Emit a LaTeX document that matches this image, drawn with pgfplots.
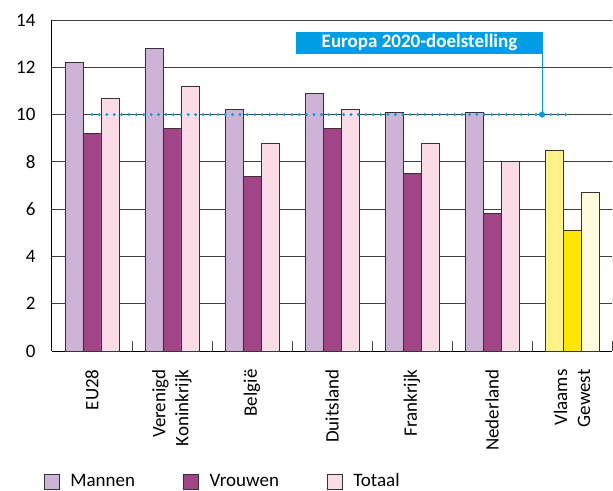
\documentclass[border=0pt]{standalone}
\usepackage{fontspec}
\setmainfont{Carlito}
\usepackage{pgfplots}
\pgfplotsset{compat=1.18}

\definecolor{mannen}{HTML}{CDB4D6}
\definecolor{vrouwen}{HTML}{A14587}
\definecolor{totaal}{HTML}{F9DCE8}
\definecolor{vlmannen}{HTML}{FFF28A}
\definecolor{vlvrouwen}{HTML}{FFE600}
\definecolor{vltotaal}{HTML}{FFFBDC}
\definecolor{eublue}{HTML}{009FE3}

\begin{document}
\fontsize{19bp}{23bp}\selectfont
\begin{tikzpicture}
\useasboundingbox (-52bp,-140bp) rectangle (561bp,351bp);
\begin{axis}[
    at={(0,0)}, anchor=south west,
    scale only axis,
    width=560bp, height=331bp,
    xmin=-0.5, xmax=6.5,
    ymin=0, ymax=14,
    ytick={0,2,...,14},
    xtick={0,...,6},
    xticklabels={EU28, {Verenigd\\Koninkrijk}, België, Duitsland, Frankrijk, Nederland, {Vlaams\\Gewest}},
    x tick label style={rotate=90, anchor=east, align=right},
    xticklabel shift=12bp,
    yticklabel shift=10bp,
    major tick length=0bp,
    extra x ticks={0.5,1.5,...,6.5},
    extra x tick labels={},
    extra x tick style={major tick length=10bp, tick align=inside, tick style={black!75, line width=0.8bp}},
    axis x line*=bottom, axis y line*=left,
    axis line style={-, black, line width=1bp},
    ymajorgrids,
    grid style={black!75, line width=0.8bp},
    /pgf/number format/assume math mode=true,
    bar width=0.225,
    legend columns=3,
    legend image code/.code={\draw[#1, line width=0.8bp] (0bp,-7.5bp) rectangle (15bp,7.5bp);
        \path[draw=none, fill=none] (0bp,0bp) -- (24bp,0bp);},
    legend style={draw=none, fill=none, at={(axis description cs:-0.02,-0.395)}, anchor=west,
        /tikz/every even column/.append style={column sep=46bp}},
]
% EU-landen
\addplot[ybar, bar shift=-0.225, fill=mannen, draw=black!80, line width=0.8bp]
    coordinates {(0,12.2) (1,12.8) (2,10.2) (3,10.9) (4,10.1) (5,10.1)};
\addplot[ybar, bar shift=0, fill=vrouwen, draw=black!80, line width=0.8bp]
    coordinates {(0,9.2) (1,9.4) (2,7.4) (3,9.4) (4,7.5) (5,5.8)};
\addplot[ybar, bar shift=0.225, fill=totaal, draw=black!80, line width=0.8bp]
    coordinates {(0,10.7) (1,11.2) (2,8.8) (3,10.2) (4,8.8) (5,8.0)};
% Vlaams Gewest
\addplot[ybar, bar shift=-0.225, fill=vlmannen, draw=black!80, line width=0.8bp, forget plot]
    coordinates {(6,8.5)};
\addplot[ybar, bar shift=0, fill=vlvrouwen, draw=black!80, line width=0.8bp, forget plot]
    coordinates {(6,5.1)};
\addplot[ybar, bar shift=0.225, fill=vltotaal, draw=black!80, line width=0.8bp, forget plot]
    coordinates {(6,6.7)};
\legend{Mannen, Vrouwen, Totaal}

% doelstelling
\addplot[eublue, line width=3.2bp, line cap=round, dash pattern=on 0bp off 7.4bp, forget plot]
    coordinates {(0,10) (5.975,10)};
\addplot[eublue, line width=1bp, forget plot]
    coordinates {(5.625,10) (5.625,12.56)};
\addplot[only marks, mark=*, mark size=2.8bp, eublue, forget plot]
    coordinates {(5.625,10)};
\node[fill=eublue, text=white, font=\bfseries, anchor=south east,
      minimum width=247bp, minimum height=22bp, inner sep=0bp]
    at (axis cs:5.64,12.56) {Europa 2020-doelstelling};
\end{axis}
\end{tikzpicture}
\end{document}
